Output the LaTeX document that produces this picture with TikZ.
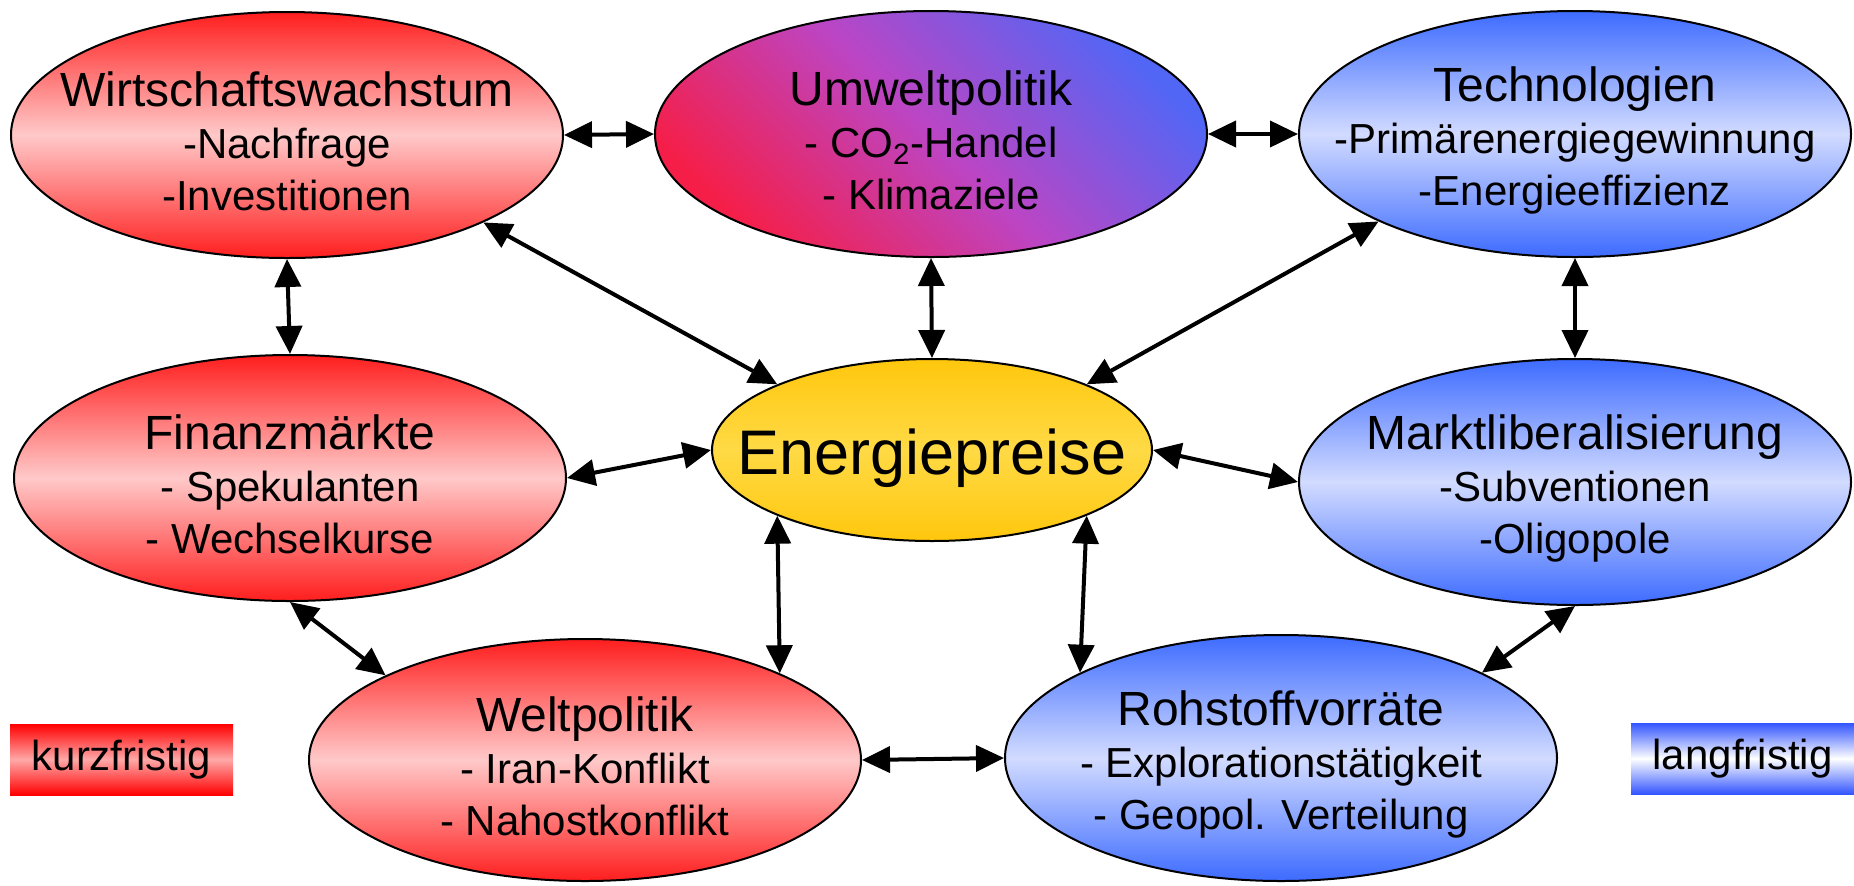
\documentclass[tikz,border=0pt]{standalone}
\usepackage{fontspec}
\setmainfont{Liberation Sans}
\usetikzlibrary{arrows.meta, shapes.geometric}

\definecolor{kurzrot}{HTML}{FF1E1E}
\definecolor{kurzrosa}{HTML}{FFC9C9}
\definecolor{langblau}{HTML}{3D6BFF}
\definecolor{langhell}{HTML}{D2DBFF}
\definecolor{umweltrot}{HTML}{F51E48}
\definecolor{umweltlila}{HTML}{BC45C4}
\definecolor{umweltblau}{HTML}{5266F5}
\definecolor{preisgold}{HTML}{FFC70D}
\definecolor{preisgelb}{HTML}{FFDA45}
\definecolor{tagrot}{HTML}{FF0000}
\definecolor{tagrosa}{HTML}{FFA8A8}
\definecolor{tagblau}{HTML}{3355FF}

\newcommand{\headfont}{\fontsize{24}{26}\selectfont\rule{0pt}{24pt}}
\newcommand{\itemfont}{\fontsize{21}{26}\selectfont}

\begin{document}
\begin{tikzpicture}[x=0.5pt, y=-0.5pt,
    bubble/.style={ellipse, draw, line width=1pt, align=center, font=\itemfont,
                   inner xsep=-40pt, inner ysep=0pt,
                   minimum width=276pt, minimum height=123pt},
    kurzfrist/.style={bubble, top color=kurzrot, bottom color=kurzrot, middle color=kurzrosa},
    langfrist/.style={bubble, top color=langblau, bottom color=langblau, middle color=langhell},
    legendbox/.style={minimum width=111.5pt, minimum height=35.5pt, inner sep=0pt,
                      font=\fontsize{21}{25}\selectfont},
    link/.style={{Triangle[length=14pt,width=13pt]}-{Triangle[length=14pt,width=13pt]},
                 line width=2pt}]
  \useasboundingbox (0,0) rectangle (1854,885);
  % centre
  \node[bubble, minimum width=220pt, minimum height=91pt, font=\fontsize{31.5}{34}\selectfont,
        top color=preisgold, bottom color=preisgold, middle color=preisgelb] (preise) at (932,450) {\rule{0pt}{31pt}Energiepreise};
  % upper row
  \node[kurzfrist] (wachstum) at (287,135) {{\headfont Wirtschaftswachstum}\\ -Nachfrage\\ -Investitionen};
  \node[bubble, top color=umweltblau, bottom color=umweltrot, middle color=umweltlila,
        shading angle=-45] (umwelt) at (931,134) {{\headfont Umweltpolitik}\\ - CO\textsubscript{2}-Handel\\ - Klimaziele};
  \node[langfrist] (technik) at (1575,134) {{\headfont Technologien}\\ -Primärenergiegewinnung\\ -Energieeffizienz};
  % middle row
  \node[kurzfrist] (finanz) at (290,478) {{\headfont Finanzmärkte}\\ - Spekulanten\\ - Wechselkurse};
  \node[langfrist] (markt) at (1575,482) {{\headfont Marktliberalisierung}\\ -Subventionen\\ -Oligopole};
  % lower row
  \node[kurzfrist, minimum height=121pt] (welt) at (585,760) {{\headfont Weltpolitik}\\ - Iran-Konflikt\\ - Nahostkonflikt};
  \node[langfrist] (rohstoff) at (1281,758) {{\headfont Rohstoffvorräte}\\ - Explorationstätigkeit\\ - Geopol. Verteilung};
  % legend
  \node[legendbox, top color=tagrot, bottom color=tagrot, middle color=tagrosa] (kurz) at (121.5,759.5) {kurzfristig};
  \node[legendbox, top color=tagblau, bottom color=tagblau, middle color=white] (lang) at (1742.5,758.5) {langfristig};
  % links
  \draw[link] (wachstum.east) -- (umwelt.west);
  \draw[link] (umwelt.east) -- (technik.west);
  \draw[link] (wachstum.south) -- (finanz.north);
  \draw[link] (technik.south) -- (markt.north);
  \draw[link] (wachstum.-24) -- (preise.157);
  \draw[link] (umwelt.south) -- (preise.north);
  \draw[link] (technik.-156) -- (preise.23);
  \draw[link] (finanz.east) -- (preise.west);
  \draw[link] (preise.east) -- (markt.west);
  \draw[link] (finanz.south) -- (welt.157);
  \draw[link] (preise.-157) -- (welt.24);
  \draw[link] (preise.-23) -- (rohstoff.157);
  \draw[link] (markt.south) -- (rohstoff.23);
  \draw[link] (welt.east) -- (rohstoff.west);
\end{tikzpicture}
\end{document}
